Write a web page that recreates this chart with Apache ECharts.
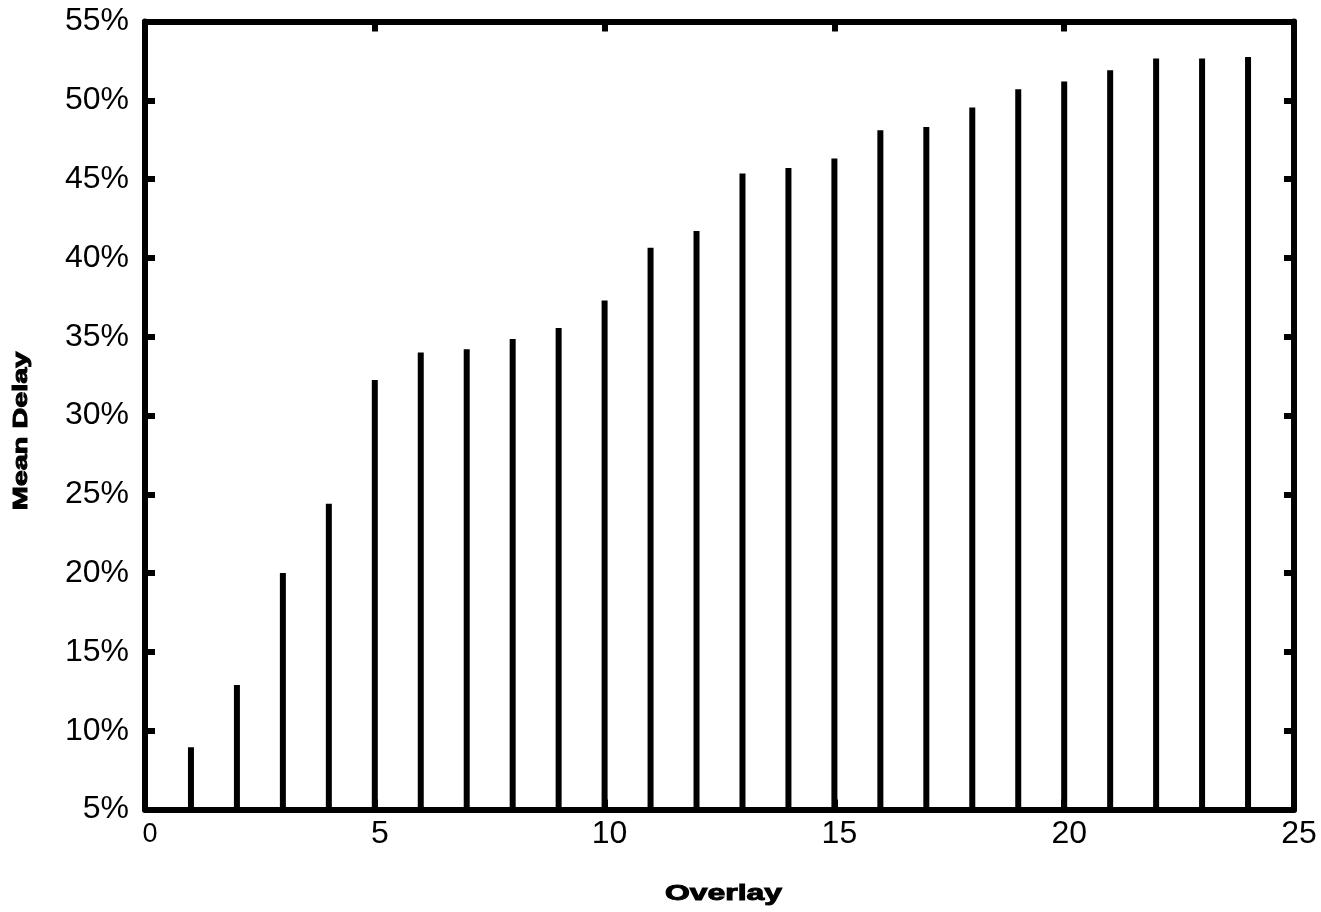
<!DOCTYPE html>
<html>
<head>
<meta charset="utf-8">
<script src="https://cdn.jsdelivr.net/npm/echarts@6/dist/echarts.min.js"></script>
<style>
  html, body { margin: 0; padding: 0; background: #fff; }
  #main { width: 1321px; height: 912px; }
</style>
</head>
<body>
<div id="main"></div>
<script>
// overlay level -> mean delay (%)
var overlay = [1, 2, 3, 4, 5, 6, 7, 8, 9, 10, 11, 12, 13, 14, 15, 16, 17, 18, 19, 20, 21, 22, 23, 24];
var meanDelay = [8.95, 12.9, 20.0, 24.4, 32.25, 34.0, 34.2, 34.85, 35.55, 37.3, 40.65, 41.7, 45.35, 45.7, 46.3, 48.1, 48.3, 49.55, 50.7, 51.2, 51.9, 52.65, 52.65, 52.75];
var xTitle = 'Overlay';
var yTitle = 'Mean Delay';

var chart = echarts.init(document.getElementById('main'));

var data = []
for (var i = 0; i < overlay.length; i++) {
  data.push([overlay[i], meanDelay[i]])
}

var font = 'Liberation Sans, Arial, sans-serif';
var frameLine = { show: true, onZero: false, lineStyle: { color: '#000', width: 6 } };
var innerTick = { show: true, inside: true, length: 10, lineStyle: { color: '#000', width: 6 } };

var option = {
  animation: false,
  backgroundColor: '#fff',
  grid: { left: 145, right: 27, top: 21.5, bottom: 102.5, containLabel: false, outerBoundsMode: 'none' },
  xAxis: [
    {
      type: 'value',
      min: 0, max: 25, interval: 5,
      axisLine: frameLine,
      axisTick: innerTick,
      splitLine: { show: false },
      axisLabel: {
        fontFamily: font, fontSize: 32, color: '#000', margin: 9,
        padding: [0, 0, 0, 10],
        // the 0 at the origin is printed smaller in the original
        formatter: function (v) { return v === 0 ? '{s|0}' : String(v) },
        rich: { s: { fontFamily: font, fontSize: 27, color: '#000', padding: [3, 0, 0, 0] } }
      }
    },
    {
      type: 'value', position: 'top',
      min: 0, max: 25, interval: 5,
      axisLine: frameLine,
      axisTick: innerTick,
      axisLabel: { show: false },
      splitLine: { show: false }
    }
  ],
  yAxis: [
    {
      type: 'value',
      min: 5, max: 55, interval: 5,
      axisLine: frameLine,
      axisTick: innerTick,
      splitLine: { show: false },
      axisLabel: { fontFamily: font, fontSize: 32, color: '#000', margin: 16, formatter: '{value}%' }
    },
    {
      type: 'value', position: 'right',
      min: 5, max: 55, interval: 5,
      axisLine: frameLine,
      axisTick: innerTick,
      axisLabel: { show: false },
      splitLine: { show: false }
    }
  ],
  // axis titles use a wide heavy face in the original, so stretch them
  graphic: [
    {
      type: 'text', x: 723.5, y: 893.5, scaleX: 1.45,
      style: { text: xTitle, fontFamily: font, fontWeight: 'bold', fontSize: 22, fill: '#000', stroke: '#000', lineWidth: 1, align: 'center', verticalAlign: 'middle' }
    },
    {
      type: 'text', x: 21, y: 431, rotation: Math.PI / 2, scaleX: 1.44,
      style: { text: yTitle, fontFamily: font, fontWeight: 'bold', fontSize: 20, fill: '#000', stroke: '#000', lineWidth: 1, align: 'center', verticalAlign: 'middle' }
    }
  ],
  series: [{
    type: 'bar',
    data: data,
    barWidth: 6,
    clip: true,
    itemStyle: { color: '#000' }
  }]
};

chart.setOption(option);
</script>
</body>
</html>
